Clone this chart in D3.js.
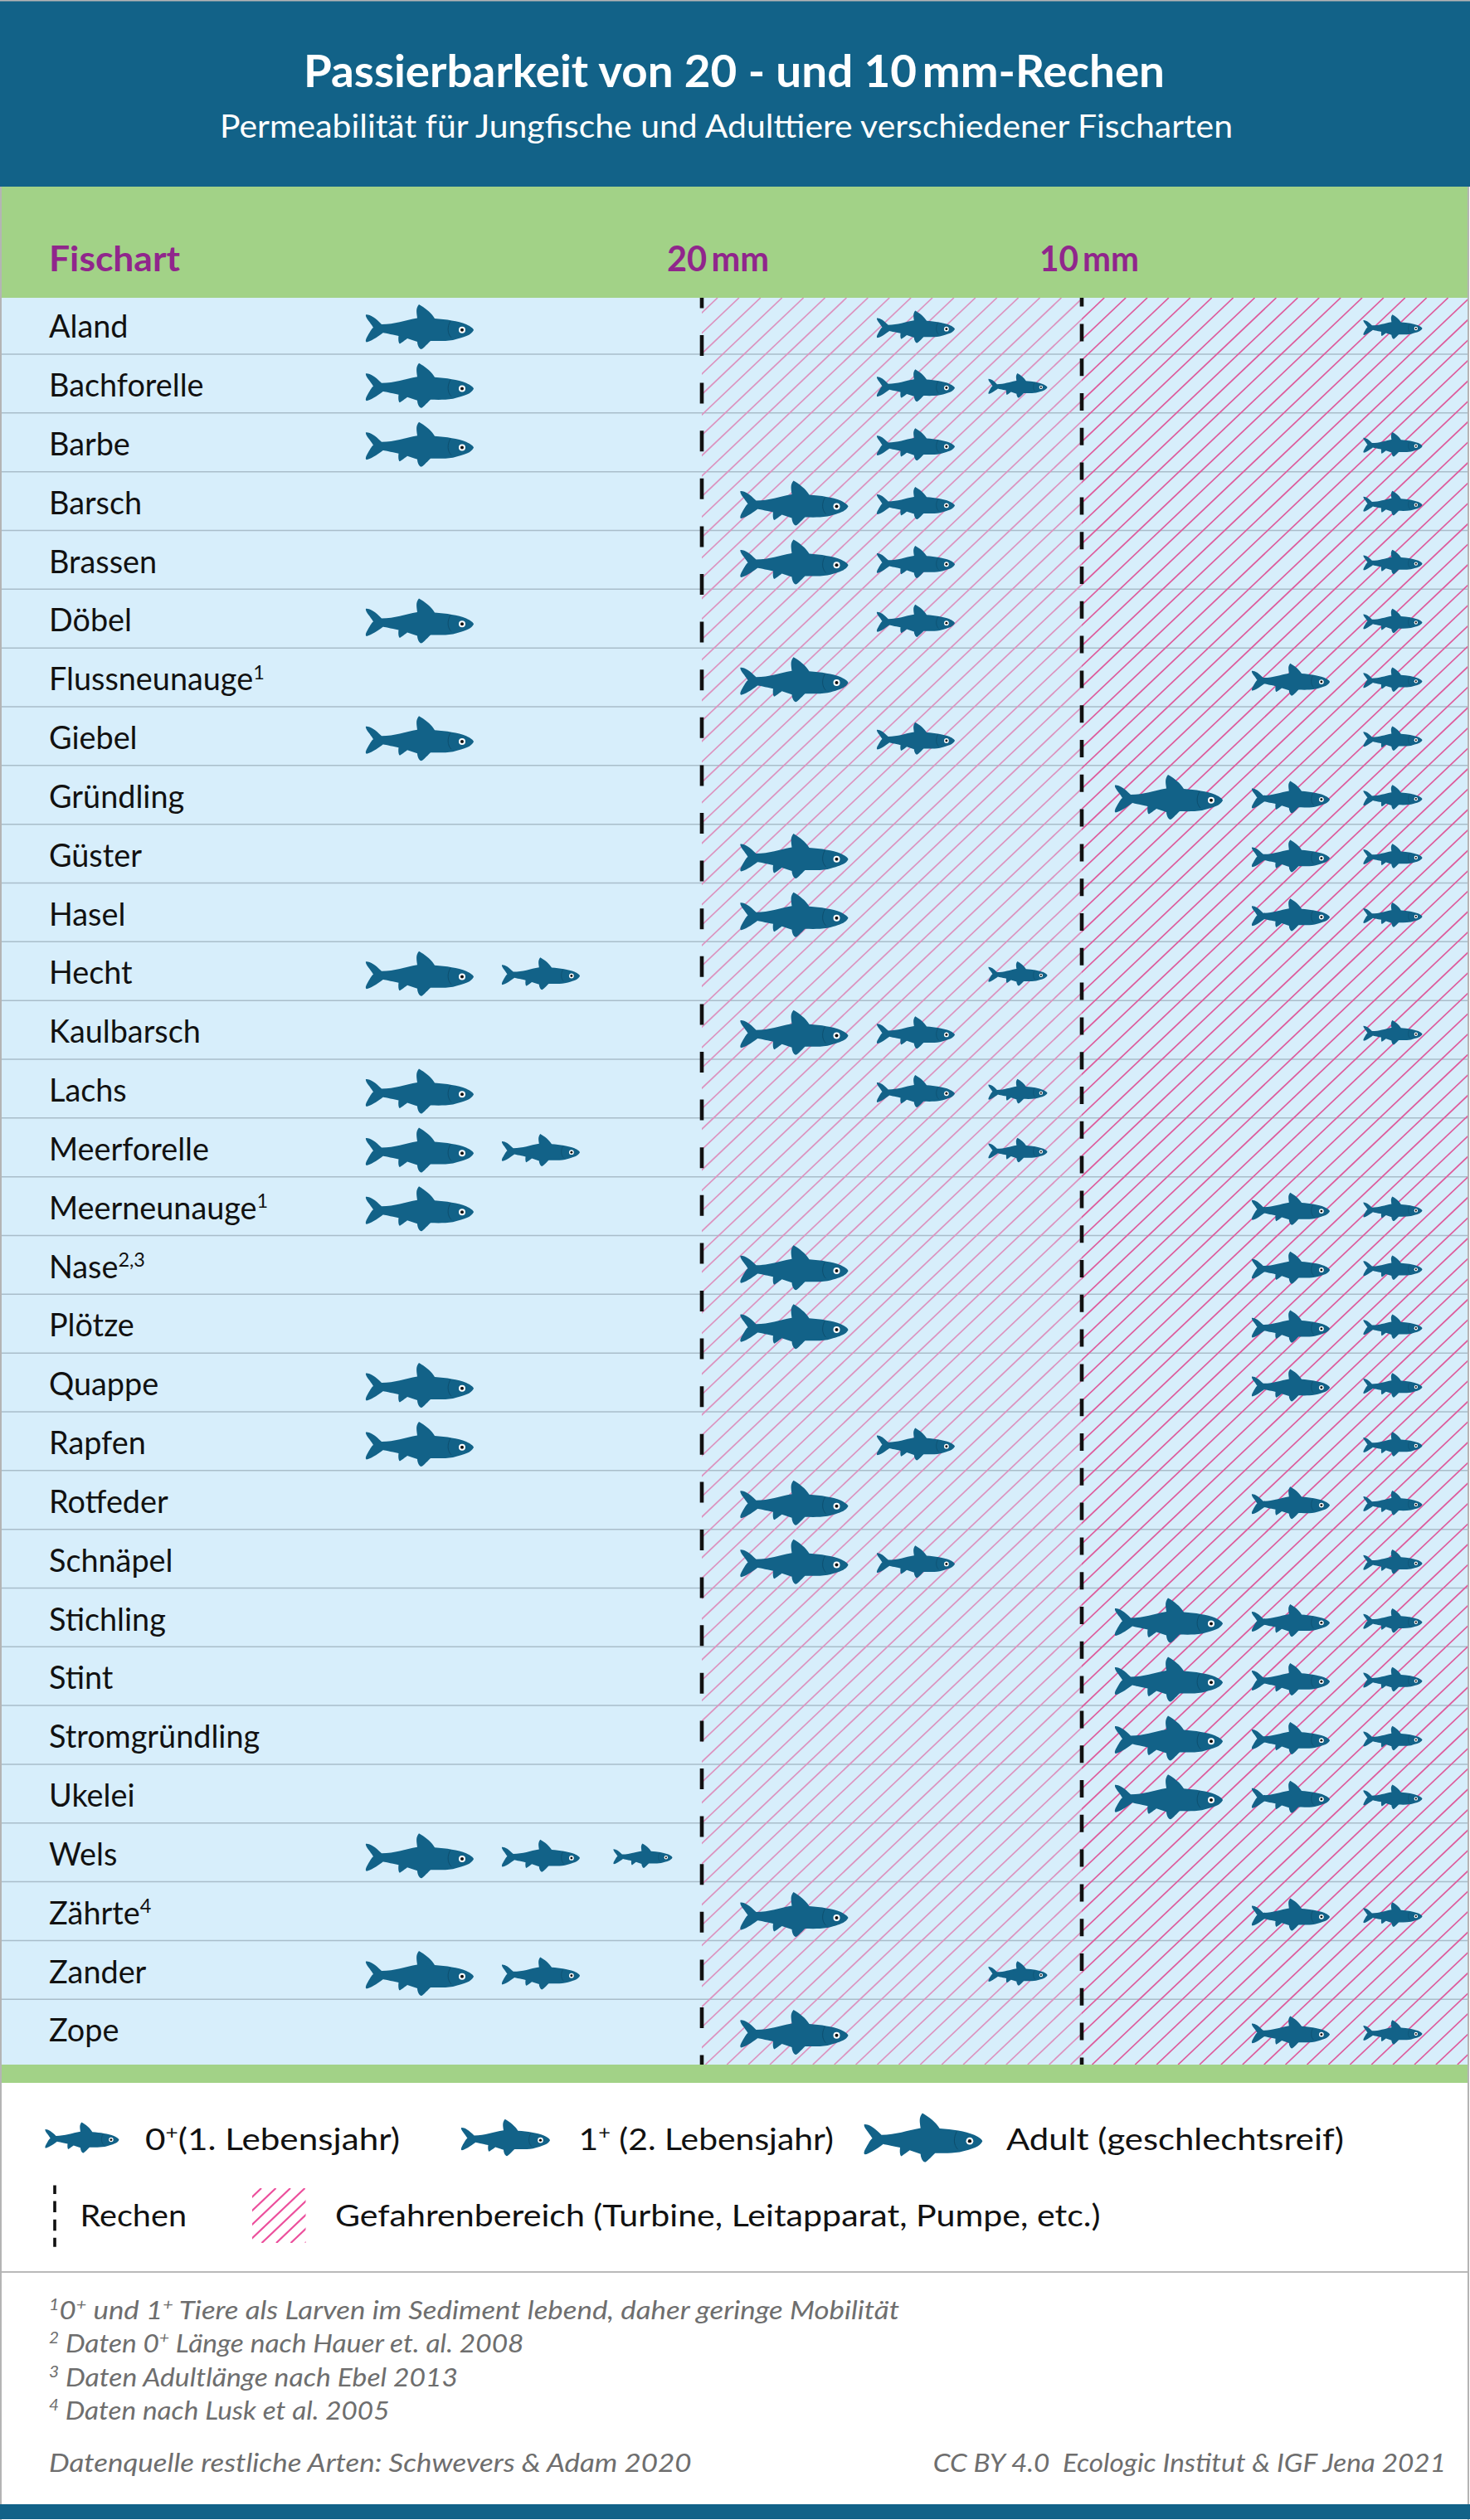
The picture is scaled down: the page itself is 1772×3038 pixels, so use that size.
<!DOCTYPE html>
<html>
<head>
<meta charset="utf-8">
<script src="https://cdnjs.cloudflare.com/ajax/libs/d3/7.8.5/d3.min.js"></script>
<style>
    html, body { margin: 0; padding: 0; background: #fff; }
    svg { display: block; font-family: Lato, "Open Sans", sans-serif; }
</style>
</head>
<body>
<div id="chart"></div>
<script>
const species = ["Aland", "Bachforelle", "Barbe", "Barsch", "Brassen", "Döbel", "Flussneunauge", "Giebel", "Gründling", "Güster",
    "Hasel", "Hecht", "Kaulbarsch", "Lachs", "Meerforelle", "Meerneunauge", "Nase", "Plötze", "Quappe", "Rapfen",
    "Rotfeder", "Schnäpel", "Stichling", "Stint", "Stromgründling", "Ukelei", "Wels", "Zährte", "Zander", "Zope"];

// footnote number behind the species name
const speciesNotes = { "Flussneunauge": "1", "Meerneunauge": "1", "Nase": "2,3", "Zährte": "4" };

// zone reached per life stage: 0 = stopped by the 20 mm rack, 1 = passes 20 mm only, 2 = passes 10 mm as well
const adultZone = [0, 0, 0, 1, 1, 0, 1, 0, 2, 1, 1, 0, 1, 0, 0, 0, 1, 1, 0, 0, 1, 1, 2, 2, 2, 2, 0, 1, 0, 1];
const oneYearZone = [1, 1, 1, 1, 1, 1, 2, 1, 2, 2, 2, 0, 1, 1, 0, 2, 2, 2, 2, 1, 2, 1, 2, 2, 2, 2, 0, 2, 0, 2];
const zeroYearZone = [2, 1, 2, 2, 2, 2, 2, 2, 2, 2, 2, 1, 2, 1, 1, 2, 2, 2, 2, 2, 2, 2, 2, 2, 2, 2, 0, 2, 1, 2];

const stages = ["adult", "one", "zero"];
const zones = [0, 1, 2];
const footnotes = [
    [["1", true], ["0", false], ["+", true], [" und 1", false], ["+", true], [" Tiere als Larven im Sediment lebend, daher geringe Mobilität", false]],
    [["2", true], [" Daten 0", false], ["+", true], [" Länge nach Hauer et. al. 2008", false]],
    [["3", true], [" Daten Adultlänge nach Ebel 2013", false]],
    [["4", true], [" Daten nach Lusk et al. 2005", false]]
];

const width = 1772, height = 3038;
const blue = "#126288", green = "#a2d287", sky = "#d7eefb", purple = "#90268c";

const svg = d3.select("#chart").append("svg").attr("width", width).attr("height", height);

// page frame
svg.append("rect").attr("width", width).attr("height", height).attr("fill", "#fff");
svg.append("rect").attr("width", 2).attr("height", height).attr("fill", "#b4b4b4");
svg.append("rect").attr("x", 1769).attr("width", 2).attr("height", height).attr("fill", "#b4b4b4");

// scales
const tableTop = 359, tableBottom = 2489;
const y = d3.scaleBand().domain(species).range([356.2, 2481.1]);
const fishY = d3.scalePoint().domain(species).range([393.9, 2449.9]);
const rackX = d3.scaleOrdinal().domain([20, 10]).range([846, 1304]);
const fishWidth = d3.scaleOrdinal().domain(stages).range([130, 94, 71]);
const columnX = {
    adult: d3.scaleOrdinal().domain(zones).range([506, 957.5, 1409]),
    one: d3.scaleOrdinal().domain(zones).range([652, 1104, 1556]),
    zero: d3.scaleOrdinal().domain(zones).range([775, 1227, 1679])
};

// fish symbol, about 130 wide and centred on 0,0
const fishBody = "M-65,-14.5 C-60,-15 -54,-11 -46,-3 C-30,-3 -18,-8 -3,-10.5 C-4,-18 -5,-22 -1,-27 " +
    "C6,-23 14,-17 18,-10 C32,-9 46,-7 56,-3 C61,-0.5 65,2 65,4 C62,10 55,12 40,16 C30,17.5 20,17 13,17 " +
    "C8,22 3,27 2,27 C-1,27 -3,21 -3,18 L-15,14 C-19,17 -24,20.5 -24,20.5 C-26,20 -26,14 -25.5,11 " +
    "C-35,9 -45,7 -44,7 C-52,13 -60,18 -64,18.5 C-66,18 -65,15 -64,13 C-60,6 -58,2 -56,1 C-60,-6 -66,-11 -65,-14.5 Z";

function drawFish(parent, cx, cy, w) {
    let g = parent.append("g").attr("transform", `translate(${cx},${cy}) scale(${w / 130})`);
    g.append("path").attr("d", fishBody).attr("fill", blue);
    g.append("path").attr("d", "M37,-7 C33,0 33,8 38,13").attr("fill", "none").attr("stroke", "#0c4c6b").attr("stroke-width", 0.9);
    g.append("circle").attr("cx", 51).attr("cy", 3.8).attr("r", 4).attr("fill", "#fff");
    g.append("circle").attr("cx", 51).attr("cy", 3.8).attr("r", 2).attr("fill", "#111");
}

// text with superscript parts, squeezed to the measured span
function drawRichText(parent, x, baseline, parts, size, span) {
    let text = parent.append("text").attr("x", x).attr("y", baseline).attr("font-size", size);
    let raised = false;
    parts.forEach(function(p) {
        let t = text.append("tspan").text(p[0]);
        if (p[1]) {
            t.attr("font-size", size * 0.62);
            if (!raised) t.attr("dy", -size * 0.36);
            raised = true;
        } else if (raised) {
            t.attr("dy", size * 0.36);
            raised = false;
        }
    });
    if (span) text.attr("textLength", span).attr("lengthAdjust", "spacingAndGlyphs");
    return text;
}

// header
svg.append("rect").attr("x", 0).attr("y", 0).attr("width", 1772).attr("height", 225).attr("fill", blue);
svg.append("rect").attr("x", 0).attr("y", 0).attr("width", 1772).attr("height", 1.5).attr("fill", "#b4b4b4");
svg.append("text").attr("x", 885).attr("y", 105).attr("text-anchor", "middle")
    .attr("font-size", 54).attr("font-weight", 700).attr("fill", "#fff")
    .attr("textLength", 1038).attr("lengthAdjust", "spacingAndGlyphs")
    .text("Passierbarkeit von 20 - und 10\u2009mm-Rechen");
svg.append("text").attr("x", 875.5).attr("y", 166).attr("text-anchor", "middle")
    .attr("font-size", 38).attr("fill", "#fff")
    .attr("textLength", 1221).attr("lengthAdjust", "spacingAndGlyphs")
    .text("Permeabilität für Jungfische und Adulttiere verschiedener Fischarten");

// table background and row lines
svg.append("rect").attr("x", 2).attr("y", tableTop).attr("width", 1767).attr("height", tableBottom - tableTop).attr("fill", sky);
svg.append("g").selectAll("line").data(species.slice(0, -1)).join("line")
    .attr("x1", 2).attr("x2", 1769)
    .attr("y1", d => y(d) + y.bandwidth()).attr("y2", d => y(d) + y.bandwidth())
    .attr("stroke", "#a9bdca").attr("stroke-width", 1.5);

// hazard hatching behind the racks
const hatchStep = 25.9, hatchSlope = 0.95;
const hatchStarts = d3.range(-1, 124).map(k => 865 + k * hatchStep);

function drawHatch(id, x0, x1, color) {
    svg.append("clipPath").attr("id", id).append("rect")
        .attr("x", x0).attr("y", tableTop).attr("width", x1 - x0).attr("height", tableBottom - tableTop);
    svg.append("g").attr("clip-path", `url(#${id})`).selectAll("line").data(hatchStarts).join("line")
        .attr("x1", d => d).attr("y1", tableTop)
        .attr("x2", d => d + (tableTop - tableBottom) / hatchSlope).attr("y2", tableBottom)
        .attr("stroke", color).attr("stroke-width", 1.7);
}
drawHatch("hatch20", rackX(20), rackX(10), "#dc93bf");
drawHatch("hatch10", rackX(10), 1769, "#de5b9c");

// racks
svg.append("line").attr("x1", rackX(20)).attr("x2", rackX(20)).attr("y1", tableTop).attr("y2", tableBottom)
    .attr("stroke", "#111").attr("stroke-width", 4.6).attr("stroke-dasharray", "25 32.6").attr("stroke-dashoffset", 12.6);
svg.append("line").attr("x1", rackX(10)).attr("x2", rackX(10)).attr("y1", tableTop).attr("y2", tableBottom)
    .attr("stroke", "#111").attr("stroke-width", 4.6).attr("stroke-dasharray", "21 20.8").attr("stroke-dashoffset", 10.4);

// green bands above and below the table
svg.append("rect").attr("x", 2).attr("y", 225).attr("width", 1767).attr("height", 134).attr("fill", green);
svg.append("rect").attr("x", 2).attr("y", tableBottom).attr("width", 1767).attr("height", 22).attr("fill", green);

// column heads
const heads = [["Fischart", 59, 158], ["20\u2009mm", 804, 123], ["10\u2009mm", 1253, 120]];
svg.append("g").selectAll("text").data(heads).join("text")
    .attr("x", d => d[1]).attr("y", 327).attr("font-size", 42).attr("font-weight", 700).attr("fill", purple)
    .attr("textLength", d => d[2]).attr("lengthAdjust", "spacingAndGlyphs")
    .text(d => d[0]);

// species names
species.forEach(function(name) {
    let parts = [[name, false]];
    if (speciesNotes[name]) parts.push([speciesNotes[name], true]);
    drawRichText(svg, 59, y(name) + y.bandwidth() / 2 + 15.7, parts, 37.8).attr("fill", "#111");
});

// fish per species and life stage
const zoneByStage = { adult: adultZone, one: oneYearZone, zero: zeroYearZone };
const fishLayer = svg.append("g");
species.forEach(function(name, i) {
    stages.forEach(function(stage) {
        let cx = columnX[stage](zoneByStage[stage][i]);
        drawFish(fishLayer, cx, fishY(name), fishWidth(stage));
    });
});

// legend
const legend = svg.append("g");
drawFish(legend, 99, 2577, 89);
drawFish(legend, 609.5, 2577, 107);
drawFish(legend, 1113, 2577, 142.5);
drawRichText(legend, 175, 2592, [["0", false], ["+", true], ["(1. Lebensjahr)", false]], 37, 307).attr("fill", "#111");
drawRichText(legend, 697.5, 2592, [["1", false], ["+", true], [" (2. Lebensjahr)", false]], 37, 307.5).attr("fill", "#111");
drawRichText(legend, 1213, 2592, [["Adult (geschlechtsreif)", false]], 37, 407).attr("fill", "#111");
legend.append("line").attr("x1", 66).attr("x2", 66).attr("y1", 2634.5).attr("y2", 2708.7)
    .attr("stroke", "#111").attr("stroke-width", 3.6).attr("stroke-dasharray", "10.5 8.6 13.5 8.6 13.5 8.6 13.5 8.6");
drawRichText(legend, 96.5, 2684, [["Rechen", false]], 37, 128.5).attr("fill", "#111");
svg.append("clipPath").attr("id", "hatchLegend").append("rect").attr("x", 304).attr("y", 2638).attr("width", 64.5).attr("height", 66);
legend.append("g").attr("clip-path", "url(#hatchLegend)").selectAll("line").data(d3.range(0, 8)).join("line")
    .attr("x1", d => 315 + d * 17.5).attr("y1", 2638)
    .attr("x2", d => 315 + d * 17.5 - 66 / hatchSlope).attr("y2", 2704)
    .attr("stroke", "#ec4f9c").attr("stroke-width", 2.2);
drawRichText(legend, 404, 2684, [["Gefahrenbereich (Turbine, Leitapparat, Pumpe, etc.)", false]], 37, 922.5).attr("fill", "#111");

svg.append("rect").attr("x", 2).attr("y", 2738).attr("width", 1767).attr("height", 2).attr("fill", "#b9b9b9");

// footnotes
const footnoteY = d3.scaleLinear().domain([0, 3]).range([2795.7, 2917]);
const footnoteSpans = [1025, 572.5, 493, 410.5];
const notes = svg.append("g").attr("font-style", "italic").attr("fill", "#6e6e6e");
footnotes.forEach(function(parts, i) {
    drawRichText(notes, 59, footnoteY(i), parts, 30, footnoteSpans[i]);
});
drawRichText(notes, 59, 2980, [["Datenquelle restliche Arten: Schwevers & Adam 2020", false]], 30, 774.5);
drawRichText(notes, 1124.7, 2980, [["CC BY 4.0  Ecologic Institut & IGF Jena 2021", false]], 30, 618.3).attr("xml:space", "preserve");

// bottom band
svg.append("rect").attr("x", 0).attr("y", 3019).attr("width", 1772).attr("height", 18).attr("fill", blue);
</script>
</body>
</html>
